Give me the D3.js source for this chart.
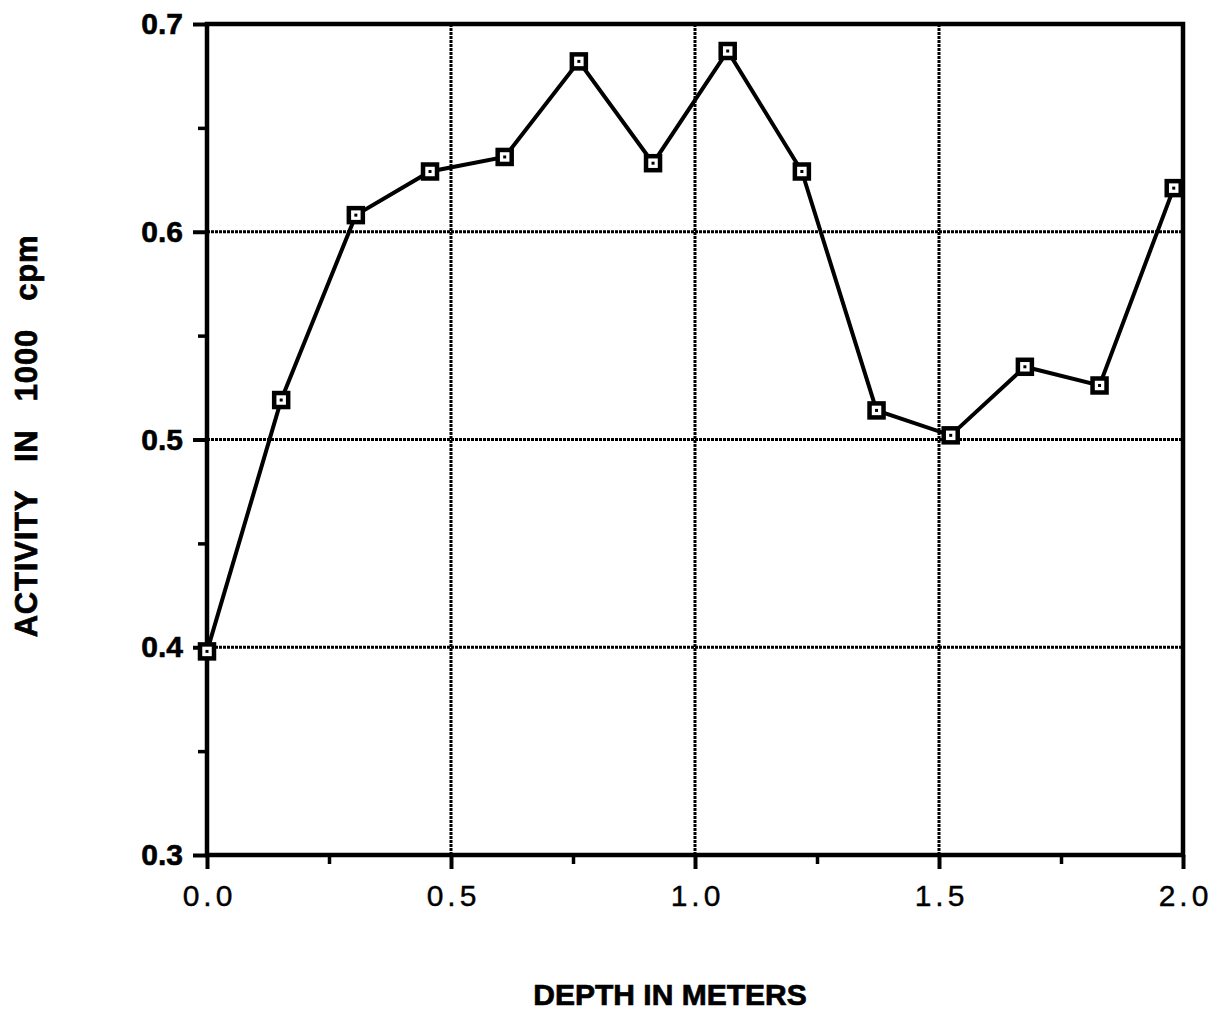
<!DOCTYPE html>
<html>
<head>
<meta charset="utf-8">
<script src="https://cdn.jsdelivr.net/npm/d3@7"></script>
<style>
  body { margin: 0; background: #fff; }
  svg text { font-family: "Liberation Sans", Arial, sans-serif; fill: #000; }
</style>
</head>
<body>
<svg id="chart"></svg>
<script>
const depth = [0, 0.152, 0.305, 0.457, 0.61, 0.762, 0.914, 1.067, 1.219, 1.372, 1.524, 1.676, 1.829, 1.981];
const activity = [0.398, 0.519, 0.608, 0.629, 0.636, 0.682, 0.633, 0.687, 0.629, 0.514, 0.502, 0.535, 0.526, 0.621];
const xTicks = [0, 0.5, 1.0, 1.5, 2.0];
const yTicks = [0.3, 0.4, 0.5, 0.6, 0.7];
const xMinor = [0.25, 0.75, 1.25, 1.75];
const yMinor = [0.35, 0.45, 0.55, 0.65];

const width = 1224, height = 1016;
const svg = d3.select("#chart").attr("width", width).attr("height", height);

const mLeft = 207, mRight = 1183, mTop = 24, mBottom = 855;

const x = d3.scaleLinear().domain([0, 2]).range([mLeft, mRight]);
const y = d3.scaleLinear().domain([0.3, 0.7]).range([mBottom, mTop]);

// grid lines (dotted look, like the scan)
svg.append("g").selectAll("line")
    .data(yTicks.filter(d => d > 0.3 && d < 0.7))
    .enter().append("line")
    .attr("x1", mLeft).attr("x2", mRight)
    .attr("y1", d => y(d)).attr("y2", d => y(d))
    .attr("stroke", "#000").attr("stroke-width", 3)
    .attr("stroke-dasharray", "3,1");

svg.append("g").selectAll("line")
    .data(xTicks.filter(d => d > 0 && d < 2))
    .enter().append("line")
    .attr("x1", d => x(d)).attr("x2", d => x(d))
    .attr("y1", mTop).attr("y2", mBottom)
    .attr("stroke", "#000").attr("stroke-width", 3)
    .attr("stroke-dasharray", "3,1");

// y axis
const yAxis = d3.axisLeft(y).tickValues(yTicks).tickFormat(d3.format(".1f")).tickSize(14).tickPadding(10);
const gy = svg.append("g").attr("transform", `translate(${mLeft},0)`).call(yAxis);
gy.select(".domain").remove();
gy.selectAll(".tick line").attr("stroke", "#000").attr("stroke-width", 4);
gy.selectAll(".tick text")
    .attr("font-size", 30).attr("font-weight", "bold")
    .attr("stroke", "#000").attr("stroke-width", 0.6);

const yAxisMinor = d3.axisLeft(y).tickValues(yMinor).tickFormat("").tickSize(9);
const gym = svg.append("g").attr("transform", `translate(${mLeft},0)`).call(yAxisMinor);
gym.select(".domain").remove();
gym.selectAll(".tick line").attr("stroke", "#000").attr("stroke-width", 3.5);

// x axis
const xAxis = d3.axisBottom(x).tickValues(xTicks).tickFormat(d3.format(".1f")).tickSize(14).tickPadding(16);
const gx = svg.append("g").attr("transform", `translate(0,${mBottom})`).call(xAxis);
gx.select(".domain").remove();
gx.selectAll(".tick line").attr("stroke", "#000").attr("stroke-width", 4);
gx.selectAll(".tick text")
    .attr("font-size", 30)
    .attr("letter-spacing", "4px")
    .attr("dx", "2px")
    .attr("stroke", "#000").attr("stroke-width", 0.4);

const xAxisMinor = d3.axisBottom(x).tickValues(xMinor).tickFormat("").tickSize(9);
const gxm = svg.append("g").attr("transform", `translate(0,${mBottom})`).call(xAxisMinor);
gxm.select(".domain").remove();
gxm.selectAll(".tick line").attr("stroke", "#000").attr("stroke-width", 3.5);

// frame
svg.append("rect")
    .attr("x", mLeft).attr("y", mTop)
    .attr("width", mRight - mLeft).attr("height", mBottom - mTop)
    .attr("fill", "none").attr("stroke", "#000").attr("stroke-width", 4.5);

// data line
const data = depth.map((d, i) => ({ d: d, a: activity[i] }));
const line = d3.line().x(p => x(p.d)).y(p => y(p.a));
svg.append("path")
    .datum(data)
    .attr("d", line)
    .attr("fill", "none")
    .attr("stroke", "#000")
    .attr("stroke-width", 4)
    .attr("stroke-linejoin", "miter");

// markers
const m = svg.append("g").selectAll("g")
    .data(data)
    .enter().append("g")
    .attr("transform", p => `translate(${x(p.d)},${y(p.a)})`);
m.append("rect")
    .attr("x", -7).attr("y", -7).attr("width", 14).attr("height", 14)
    .attr("fill", "#fff").attr("stroke", "#000").attr("stroke-width", 4.5);
m.append("rect")
    .attr("x", -1.5).attr("y", -1.5).attr("width", 3).attr("height", 3)
    .attr("fill", "#000");

// axis titles
svg.append("text")
    .attr("transform", `translate(37,${(222 + 650) / 2}) rotate(-90)`)
    .attr("text-anchor", "middle")
    .attr("font-size", 31)
    .attr("font-weight", "bold")
    .attr("letter-spacing", "0.8px")
    .attr("stroke", "#000").attr("stroke-width", 0.7)
    .style("white-space", "pre")
    .text("ACTIVITY   IN   1000   cpm");

svg.append("text")
    .attr("x", 670)
    .attr("y", 1005)
    .attr("text-anchor", "middle")
    .attr("font-size", 30)
    .attr("font-weight", "bold")
    .attr("stroke", "#000").attr("stroke-width", 0.7)
    .text("DEPTH IN METERS");
</script>
</body>
</html>
